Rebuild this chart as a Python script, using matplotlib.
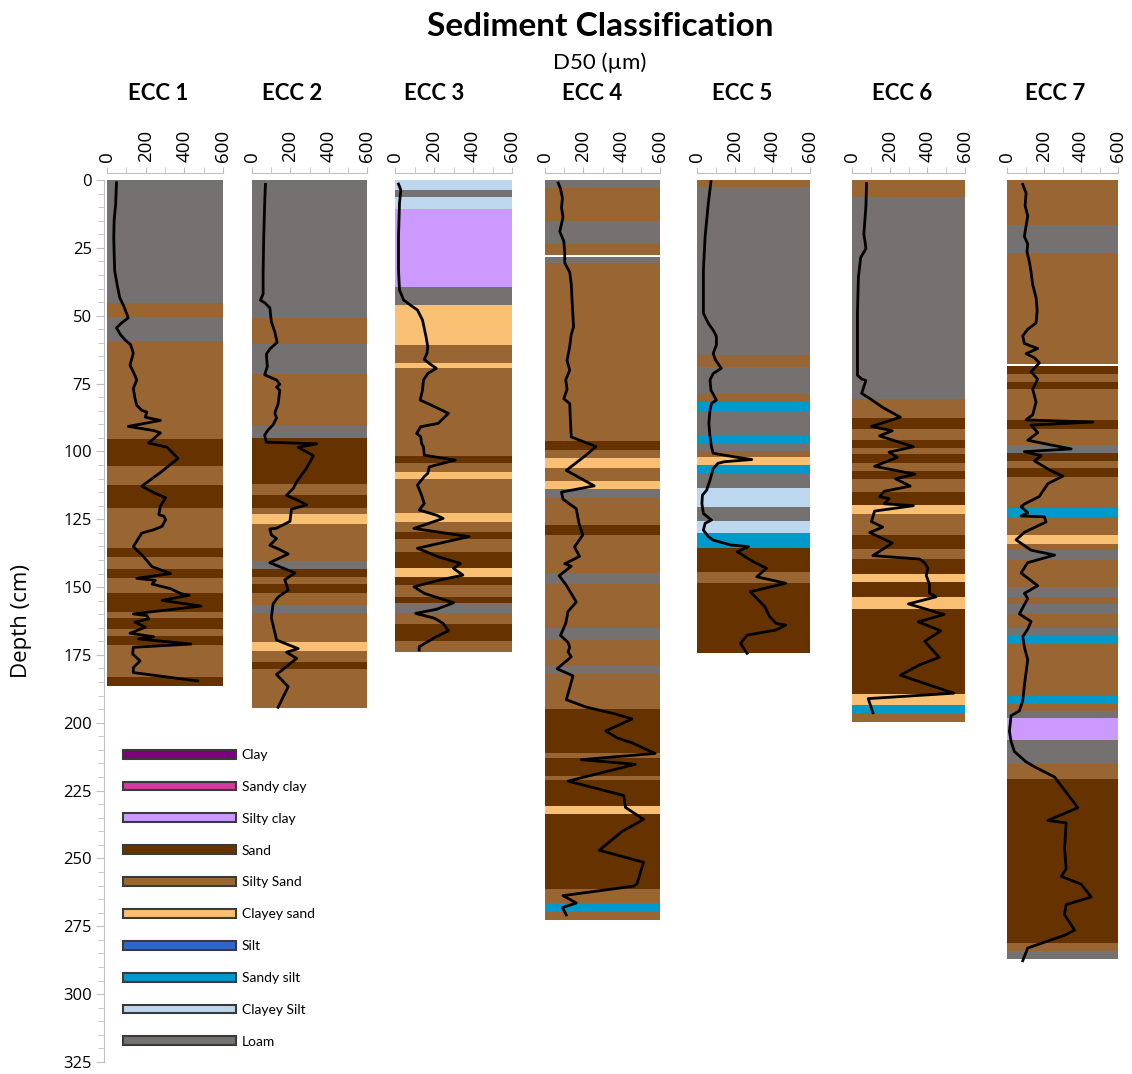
import numpy as np
import matplotlib.pyplot as plt
from matplotlib.patches import Patch
from matplotlib.ticker import MultipleLocator

plt.rcParams['font.family'] = ['Lato', 'DejaVu Sans']

# sediment classes: code -> (legend label, colour)
classes = {
    'C':   ('Clay',        '#7F007F'),
    'SC':  ('Sandy clay',  '#D4399F'),
    'SiC': ('Silty clay',  '#CC99FF'),
    'S':   ('Sand',        '#663300'),
    'SiS': ('Silty Sand',  '#996633'),
    'CS':  ('Clayey sand', '#F9C074'),
    'Si':  ('Silt',        '#3366CC'),
    'SSi': ('Sandy silt',  '#0099CC'),
    'CSi': ('Clayey Silt', '#BDD7EE'),
    'L':   ('Loam',        '#767171'),
}

core_names = ['ECC 1', 'ECC 2', 'ECC 3', 'ECC 4', 'ECC 5', 'ECC 6', 'ECC 7']

# layer boundaries (cm) and class of each layer, None = no sample
ecc1_bounds = [0, 45.5, 50.5, 59.5, 95.5, 105.5, 112.5, 121, 135.5, 139, 143.5, 146.5, 152, 159,
               161.5, 165.5, 168, 171.5, 183, 186.5]
ecc1_layers = ['L', 'SiS', 'L', 'SiS', 'S', 'SiS', 'S', 'SiS', 'S', 'SiS', 'S', 'SiS', 'S', 'SiS',
               'S', 'SiS', 'S', 'SiS', 'S']

ecc2_bounds = [0, 50.9, 60.4, 71.4, 90.5, 95, 112, 116.2, 121, 123, 126.8, 140.4, 143.5, 146.3,
               148.9, 152.2, 156.5, 159.4, 170.2, 173.4, 177.5, 180.1, 194.5]
ecc2_layers = ['L', 'SiS', 'L', 'SiS', 'L', 'S', 'SiS', 'S', 'SiS', 'CS', 'SiS', 'L', 'S', 'SiS',
               'S', 'SiS', 'L', 'SiS', 'CS', 'SiS', 'S', 'SiS']

ecc3_bounds = [0, 3.7, 6.4, 10.8, 39.3, 46.1, 60.8, 67.3, 69.4, 101.6, 104.2, 107.5, 110.3, 122.6,
               125.9, 129.6, 132.4, 137, 143.1, 146.4, 149.3, 153.6, 155.8, 159.5, 163.6, 169.8, 173.8]
ecc3_layers = ['CSi', 'L', 'CSi', 'SiC', 'L', 'CS', 'SiS', 'CS', 'SiS', 'S', 'SiS', 'CS', 'SiS',
               'CS', 'SiS', 'S', 'SiS', 'S', 'CS', 'S', 'SiS', 'S', 'L', 'SiS', 'S', 'SiS']

ecc4_bounds = [0, 2.8, 15.1, 23.4, 27.6, 28.3, 30.5, 96.1, 99.6, 102.6, 106.2, 110.9, 113.7, 117.3,
               127.3, 130.8, 144.9, 148.9, 165.1, 169.5, 179.2, 181.9, 195.1, 211.3, 213, 219.7,
               221.1, 230.6, 233.5, 261.1, 266.4, 269.9, 272.5]
ecc4_layers = ['L', 'SiS', 'L', 'SiS', None, 'L', 'SiS', 'S', 'SiS', 'CS', 'SiS', 'CS', 'L', 'SiS',
               'S', 'SiS', 'L', 'SiS', 'L', 'SiS', 'L', 'SiS', 'S', 'SiS', 'S', 'SiS', 'S', 'CS',
               'S', 'SiS', 'SSi', 'SiS']

ecc5_bounds = [0, 2.7, 64.5, 68.8, 78.9, 81.9, 85, 94.2, 96.8, 99.9, 102.2, 105, 108.4, 113.6,
               120.4, 125.6, 130, 135.7, 144.3, 148.4, 174.4]
ecc5_layers = ['SiS', 'L', 'SiS', 'L', 'SiS', 'SSi', 'L', 'SSi', 'L', 'SiS', 'CS', 'SSi', 'L',
               'CSi', 'L', 'CSi', 'SSi', 'S', 'SiS', 'S']

ecc6_bounds = [0, 6.2, 80.8, 87.8, 91.7, 95.7, 98.7, 100.9, 104.2, 107.2, 110.1, 115.1, 119.7,
               122.9, 130.8, 135.8, 139.5, 145, 148.3, 153.6, 158.2, 189.5, 193.4, 196.3, 199.6]
ecc6_layers = ['SiS', 'L', 'SiS', 'S', 'SiS', 'S', 'SiS', 'S', 'SiS', 'S', 'SiS', 'S', 'CS', 'SiS',
               'S', 'SiS', 'S', 'CS', 'S', 'CS', 'S', 'CS', 'SSi', 'SiS']

ecc7_bounds = [0, 16.6, 26.8, 67.7, 68.4, 71.5, 74.3, 77.1, 88.4, 91.8, 97.8, 100.6, 103.5, 106.3,
               109.5, 120.8, 124.1, 130.7, 134.1, 136.5, 140, 150.1, 153.5, 156.1, 159.8, 165.1,
               167.7, 171.1, 190, 192.9, 195.7, 198.4, 206.5, 215.3, 220.9, 281.1, 284.1, 287]
ecc7_layers = ['SiS', 'L', 'SiS', None, 'S', 'SiS', 'S', 'SiS', 'S', 'SiS', 'L', 'S', 'SiS', 'S',
               'SiS', 'SSi', 'SiS', 'CS', 'SiS', 'L', 'SiS', 'L', 'SiS', 'L', 'SiS', 'L', 'SSi',
               'SiS', 'SSi', 'SiS', 'L', 'SiC', 'L', 'SiS', 'S', 'SiS', 'L']

# D50 profiles: depth (cm) and median grain size (um)
ecc1_depth = [1.0, 8.7, 14.9, 21.1, 27.3, 33.5, 38.4, 43.4, 46.5, 50.8, 52.7, 54.5, 57, 58.9, 60.7,
              63.8, 68.2, 71.3, 73.7, 76.8, 80.5, 83, 84.9, 85.5, 87.4, 88.6, 90.8, 92.3, 93.2,
              96.9, 98.5, 102.6, 107.8, 112.8, 115.2, 117.1, 120.2, 123.3, 123.9, 125.2, 127.6,
              128.9, 130.1, 135.1, 138.8, 142.5, 145, 146.8, 147.5, 148.9, 150.6, 152.4, 153,
              154.9, 157, 159.9, 160.5, 161.7, 162.9, 164.8, 167, 168.3, 169.1, 171, 172.2, 174.7,
              177.2, 179.7, 181.5, 184.6]
ecc1_d50 = [49, 45, 37, 35, 37, 40, 52, 66, 87, 110, 75, 49, 70, 93, 122, 136, 119, 140, 154, 136,
            145, 154, 180, 206, 198, 276, 110, 241, 276, 215, 311, 367, 276, 180, 241, 303, 276,
            268, 294, 303, 285, 241, 180, 136, 189, 233, 329, 154, 250, 233, 329, 381, 425, 285,
            486, 136, 206, 215, 145, 198, 119, 241, 163, 434, 136, 133, 171, 136, 136, 469]

ecc2_depth = [1.6, 9.0, 21.7, 34.4, 42, 44.3, 45.2, 47.1, 52.2, 56, 59.8, 62.3, 64.2, 68.7, 71.8,
              73.7, 75.3, 76.3, 77.5, 82.6, 85.8, 87.7, 90.2, 92.1, 94, 96.6, 97.2, 98.5, 101.6,
              106.1, 111.2, 113.7, 116.2, 118.1, 119.7, 121.3, 125.8, 128.3, 128.6, 130.8, 132.1,
              134.6, 135.9, 137.8, 141, 144.8, 147.3, 151.1, 153.7, 156.2, 161.3, 169.5, 172.7,
              174, 176.3, 177.8, 182.2, 186.7, 194.3]
ecc2_d50 = [70, 66, 61, 58, 58, 44, 66, 93, 101, 119, 131, 93, 75, 80, 66, 128, 145, 128, 145, 136,
            119, 128, 110, 84, 66, 75, 338, 241, 320, 285, 233, 215, 180, 241, 285, 206, 198, 128,
            93, 101, 128, 93, 136, 189, 93, 224, 171, 189, 136, 110, 101, 128, 241, 180, 233, 206,
            128, 189, 136]

ecc3_depth = [1.5, 3.7, 8.6, 20.9, 33.2, 40.5, 44.2, 46.1, 47.9, 51.6, 57.7, 61.4, 63.9, 66.1, 67.6,
              69.4, 71.3, 73.7, 77.4, 81.1, 82.9, 86, 89.7, 90.9, 93.4, 94.6, 97.1, 98.3, 101.4,
              103.2, 105.7, 108.1, 109.3, 112.4, 116.1, 119.2, 121.6, 123.5, 124.7, 128.4, 131.4,
              135.7, 138.8, 141.3, 143.1, 145.6, 147.4, 149.9, 152.3, 155.8, 158.2, 159.7, 161.5,
              163.4, 166.1, 168.6, 172, 173.2]
ecc3_d50 = [18, 30, 23, 18, 18, 23, 44, 79, 115, 141, 159, 168, 164, 150, 176, 212, 168, 146, 141,
            129, 185, 274, 221, 132, 111, 132, 136, 146, 150, 309, 176, 168, 150, 115, 136, 150,
            124, 212, 247, 97, 380, 115, 221, 335, 300, 348, 230, 97, 150, 300, 212, 106, 203, 247,
            274, 203, 124, 124]

ecc4_depth = [1.1, 3.2, 6.7, 10.2, 13.7, 19, 22.5, 26.9, 30.5, 34, 38.4, 45.4, 54.2, 56.9, 61.3,
              66.5, 70.1, 73.6, 77.1, 80.6, 82.4, 87.7, 94.7, 98.2, 101.4, 107, 109.7, 112.7, 115,
              117.6, 119.4, 121.1, 126.4, 130.8, 135.2, 138.7, 141.4, 142.3, 145.8, 149.3, 155.5,
              159, 163.4, 167.8, 170.4, 172.2, 173.9, 175.7, 180.1, 182.7, 187.1, 191.5, 194.2,
              196.8, 198.6, 203, 205.6, 207.4, 211.3, 213.6, 215.3, 221.5, 226.8, 231.2, 235.6,
              240, 247, 251.4, 259.3, 260.2, 263.7, 266.4, 268.1, 270.8]
ecc4_d50 = [69, 81, 91, 86, 94, 77, 98, 103, 103, 129, 137, 142, 149, 137, 129, 115, 129, 108, 115,
            98, 129, 132, 137, 266, 214, 111, 180, 257, 86, 94, 129, 163, 177, 197, 154, 180, 103,
            137, 74, 111, 163, 120, 108, 81, 120, 129, 120, 137, 63, 146, 129, 111, 214, 369, 454,
            317, 377, 454, 574, 189, 471, 120, 411, 420, 514, 403, 283, 514, 480, 463, 94, 163, 91,
            111]

ecc5_depth = [0.6, 8.6, 20.9, 33.2, 49.1, 52.8, 55.9, 57.7, 60.8, 63.9, 66.3, 69.4, 71.3, 73.7,
              77.4, 81.1, 82.3, 84.8, 89.7, 94.6, 98.3, 100.7, 102.2, 103, 103.8, 104.4, 106.3,
              110.6, 114.3, 116.1, 119.2, 122.9, 125.3, 126.5, 129, 131.4, 132.7, 134.5, 135.1,
              137, 140.7, 143.1, 146.2, 148.6, 151.7, 154.8, 157.2, 160.9, 163.4, 164, 165.8,
              167.7, 170.8, 174.4]
ecc5_d50 = [74, 60, 43, 34, 34, 60, 91, 103, 103, 86, 98, 129, 86, 69, 74, 103, 77, 69, 63, 69, 77,
            86, 214, 291, 146, 111, 86, 69, 51, 29, 26, 34, 77, 43, 34, 60, 86, 180, 274, 214, 300,
            369, 317, 471, 283, 326, 360, 386, 420, 471, 420, 266, 231, 266]

ecc6_depth = [1.3, 9.5, 20, 22.6, 25.3, 28.6, 35.8, 48.9, 62.1, 72, 73.3, 73.9, 78.6, 80.5, 83.8,
              87.4, 90.8, 92.4, 94.3, 98.3, 100.3, 102.2, 105.5, 108.4, 110.1, 112.8, 114.7, 116.7,
              117.4, 119.3, 120, 122, 125.9, 127.9, 129.9, 133.8, 138.4, 139.7, 141.1, 143, 145.7,
              148.9, 152.2, 153.6, 156.2, 160.1, 162.8, 166.1, 170, 175.9, 178.6, 182.5, 189.1,
              191.1, 196.3]
ecc6_d50 = [77, 74, 63, 69, 74, 46, 34, 29, 29, 29, 51, 74, 51, 94, 163, 257, 103, 214, 146, 326,
            197, 240, 120, 334, 231, 309, 171, 146, 197, 171, 326, 120, 103, 163, 94, 214, 111, 360,
            386, 403, 394, 411, 411, 446, 300, 489, 351, 471, 386, 463, 360, 257, 540, 86, 111]

ecc7_depth = [1.6, 4.8, 9.5, 13.2, 17, 20.8, 23.6, 26.4, 30.2, 33.9, 38.6, 43.3, 48, 52.7, 55,
              57.4, 60.2, 61.2, 62.1, 64, 65.5, 67.4, 70.6, 73.4, 77.1, 81.8, 86.5, 88.4, 89.2,
              90.3, 93.1, 95.9, 99.1, 100.1, 101.6, 103.5, 107.2, 109.1, 111.9, 113.8, 116.6,
              119.4, 120.4, 122.6, 123.8, 124.1, 126, 129.8, 132.6, 136.4, 138.2, 141, 144.8,
              149.5, 152.3, 154.2, 159.9, 162.7, 165.5, 168.3, 172.1, 176.8, 181.5, 186.2, 191.8,
              193.7, 195.6, 197.4, 203.1, 206.9, 210.6, 214.4, 216.2, 220, 231.3, 236, 236.9, 246.3,
              253.8, 256.6, 259.5, 264.2, 267, 270.7, 276.4, 278.3, 283, 287.7]
ecc7_d50 = [85, 103, 98, 112, 103, 94, 112, 108, 121, 130, 139, 157, 163, 157, 112, 85, 94, 130,
            166, 103, 148, 175, 130, 166, 139, 157, 139, 103, 464, 130, 166, 112, 347, 94, 184, 148,
            239, 302, 221, 202, 175, 94, 76, 112, 76, 202, 211, 94, 49, 130, 257, 112, 76, 166, 94,
            112, 67, 130, 112, 85, 94, 112, 103, 94, 85, 76, 67, 22, 13, 22, 40, 103, 148, 257,
            383, 221, 320, 311, 320, 293, 401, 455, 320, 311, 365, 311, 112, 85]

cores = [
    (ecc1_bounds, ecc1_layers, ecc1_depth, ecc1_d50),
    (ecc2_bounds, ecc2_layers, ecc2_depth, ecc2_d50),
    (ecc3_bounds, ecc3_layers, ecc3_depth, ecc3_d50),
    (ecc4_bounds, ecc4_layers, ecc4_depth, ecc4_d50),
    (ecc5_bounds, ecc5_layers, ecc5_depth, ecc5_d50),
    (ecc6_bounds, ecc6_layers, ecc6_depth, ecc6_d50),
    (ecc7_bounds, ecc7_layers, ecc7_depth, ecc7_d50),
]

W, H = 1132, 1074
fig = plt.figure(figsize=(W / 100, H / 100), dpi=100)

# panel spans in pixels (0 um .. 600 um) and core title centres
panel_x = [(107, 223), (252, 367), (395, 512), (545, 660), (697, 810), (852, 965), (1007, 1118)]
title_x = [158, 292, 434, 592, 742, 902, 1055]
top_px, bot_px = 180, 1062
grey = '#BFBFBF'

axes = []
for i, ((x0, x1), (bounds, layers, depth, d50)) in enumerate(zip(panel_x, cores)):
    ax = fig.add_axes([x0 / W, 1 - bot_px / H, (x1 - x0) / W, (bot_px - top_px) / H])
    axes.append(ax)
    tops = np.array(bounds[:-1])
    thick = np.diff(bounds)
    for t, h, code in zip(tops, thick, layers):
        if code is None:
            continue
        ax.barh(t, 600, height=h, left=0, align='edge', color=classes[code][1], linewidth=0)
    ax.plot(d50, depth, color='black', lw=2.0, solid_joinstyle='round', zorder=5)

    ax.set_xlim(0, 600)
    ax.set_ylim(325, 0)
    for s in ['right', 'bottom', 'left']:
        ax.spines[s].set_visible(False)
    ax.spines['top'].set_color(grey)
    ax.spines['top'].set_position(('outward', 5))
    ax.xaxis.set_ticks_position('top')
    ax.xaxis.set_major_locator(MultipleLocator(200))
    ax.xaxis.set_minor_locator(MultipleLocator(100))
    ax.tick_params(axis='x', which='both', direction='out', length=4, color=grey,
                   labelsize=13.5, pad=4, labelrotation=90)
    for lab in ax.get_xticklabels():
        lab.set_fontfamily(['Open Sans', 'DejaVu Sans'])
    ax.set_yticks([])
    ax.patch.set_alpha(0)
    fig.text(title_x[i] / W, 1 - 93 / H, core_names[i], ha='center', va='center',
             fontsize=16, fontweight='bold')

# depth axis on the first panel
ax0 = axes[0]
ax0.spines['left'].set_visible(True)
ax0.spines['left'].set_color(grey)
ax0.spines['left'].set_position(('outward', 2))
ax0.yaxis.set_major_locator(MultipleLocator(25))
ax0.yaxis.set_minor_locator(MultipleLocator(5))
ax0.tick_params(axis='y', which='major', direction='out', length=6, color=grey, labelsize=12, pad=3)
ax0.tick_params(axis='y', which='minor', direction='out', length=4, color=grey)
for lab in ax0.get_yticklabels():
    lab.set_fontfamily(['Open Sans', 'DejaVu Sans'])

fig.text(22 / W, 1 - 621 / H, 'Depth (cm)', rotation=90, ha='center', va='center', fontsize=16,
         family=['Open Sans', 'DejaVu Sans'])
fig.text(600 / W, 1 - 27 / H, 'Sediment Classification', ha='center', va='center', fontsize=24,
         fontweight='bold')
fig.text(600 / W, 1 - 63 / H, 'D50 (µm)', ha='center', va='center', fontsize=16)

# class legend
handles = [Patch(facecolor=c, edgecolor='#3A3A3A', linewidth=1.5, label=lbl)
           for lbl, c in classes.values()]
fig.legend(handles=handles, loc='upper left', bbox_to_anchor=(123 / W, 1 - 749 / H),
           frameon=False, fontsize=10, handlelength=8.1, handleheight=0.6, handletextpad=0.45,
           labelspacing=1.43, borderpad=0, borderaxespad=0)

fig.savefig('out.png', dpi=100)
